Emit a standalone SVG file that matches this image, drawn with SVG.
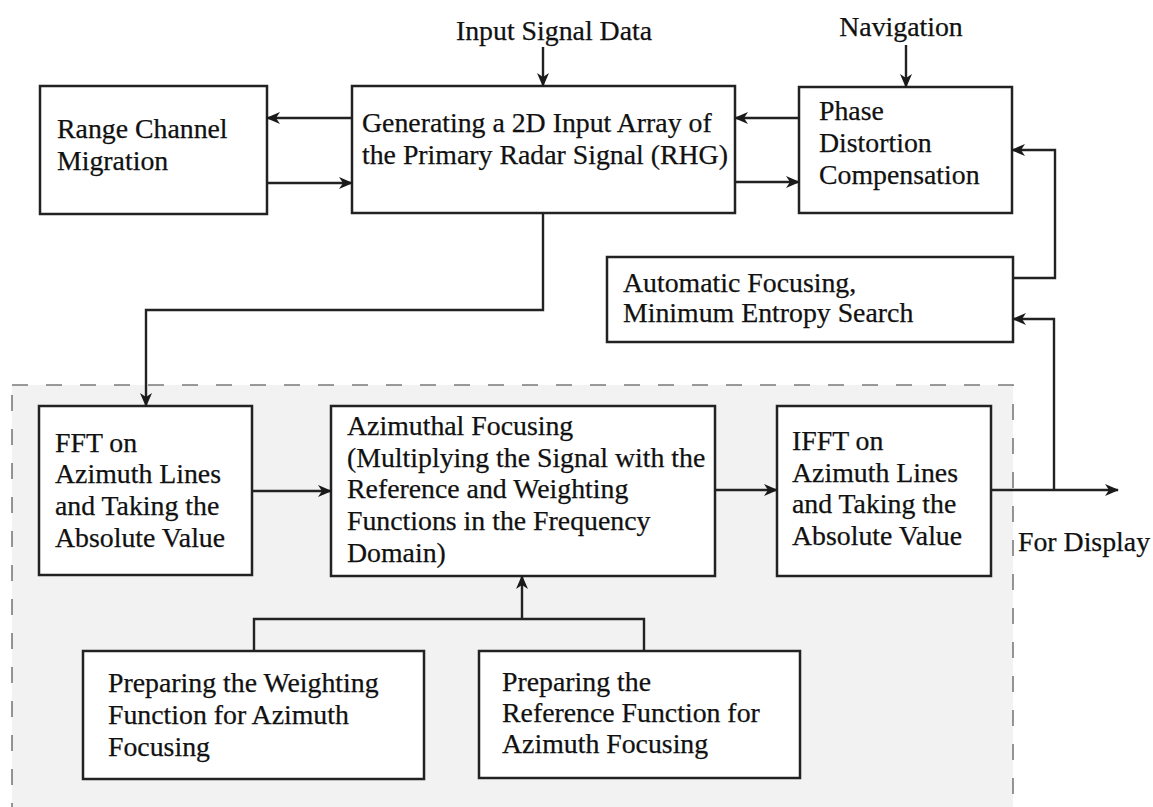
<svg xmlns="http://www.w3.org/2000/svg" width="1153" height="807" viewBox="0 0 1153 807">
  <style>
    .box { fill: #ffffff; stroke: #222222; stroke-width: 2.5; }
    .lbl { font-family: "Liberation Serif", "Times New Roman", serif; font-size: 27.8px; fill: #111111; stroke: #111111; stroke-width: 0.25; }
    .wire { fill: none; stroke: #222222; stroke-width: 2.4; }
    .arr { marker-end: url(#ah); }
    .region { fill: #f2f2f2; stroke: #7a7a7a; stroke-width: 1.6; stroke-dasharray: 16 18; }
  </style>
  <defs>
    <marker id="ah" viewBox="0 0 14 12" refX="13" refY="6" markerWidth="14" markerHeight="12" orient="auto" markerUnits="userSpaceOnUse">
      <path d="M0,0 L14,6 L0,12 L4,6 z" fill="#1a1a1a"/>
    </marker>
  </defs>

  <rect width="1153" height="807" fill="#ffffff"/>

  <!-- azimuth processing block -->
  <rect id="azimuth-block" class="region" x="12" y="385" width="1001" height="440"/>

  <!-- free labels -->
  <g id="input-label"><text class="lbl" x="554" y="40" text-anchor="middle">Input Signal Data</text></g>
  <g id="nav-label"><text class="lbl" x="901" y="36" text-anchor="middle">Navigation</text></g>
  <g id="display-label"><text class="lbl" x="1018" y="551">For Display</text></g>

  <!-- nodes -->
  <g id="range-migration">
    <rect class="box" x="40" y="86" width="227" height="128"/>
    <text class="lbl" x="57" y="138">Range Channel</text>
    <text class="lbl" x="57" y="170">Migration</text>
  </g>
  <g id="input-array">
    <rect class="box" x="352" y="86" width="383" height="127"/>
    <text class="lbl" x="362" y="132">Generating a 2D Input Array of</text>
    <text class="lbl" x="362" y="164">the Primary Radar Signal (RHG)</text>
  </g>
  <g id="phase-comp">
    <rect class="box" x="799" y="87" width="213" height="126"/>
    <text class="lbl" x="819" y="120">Phase</text>
    <text class="lbl" x="819" y="152">Distortion</text>
    <text class="lbl" x="819" y="184">Compensation</text>
  </g>
  <g id="autofocus">
    <rect class="box" x="607" y="257" width="406" height="85"/>
    <text class="lbl" x="623" y="292">Automatic Focusing,</text>
    <text class="lbl" x="623" y="322">Minimum Entropy Search</text>
  </g>
  <g id="fft">
    <rect class="box" x="39" y="406" width="213" height="169"/>
    <text class="lbl" x="55" y="452">FFT on</text>
    <text class="lbl" x="55" y="483">Azimuth Lines</text>
    <text class="lbl" x="55" y="515">and Taking the</text>
    <text class="lbl" x="55" y="547">Absolute Value</text>
  </g>
  <g id="azimuthal-focusing">
    <rect class="box" x="331" y="406" width="384" height="170"/>
    <text class="lbl" x="347" y="435">Azimuthal Focusing</text>
    <text class="lbl" x="347" y="467">(Multiplying the Signal with the</text>
    <text class="lbl" x="347" y="498">Reference and Weighting</text>
    <text class="lbl" x="347" y="530">Functions in the Frequency</text>
    <text class="lbl" x="347" y="562">Domain)</text>
  </g>
  <g id="ifft">
    <rect class="box" x="777" y="406" width="214" height="170"/>
    <text class="lbl" x="792" y="450">IFFT on</text>
    <text class="lbl" x="792" y="482">Azimuth Lines</text>
    <text class="lbl" x="792" y="513">and Taking the</text>
    <text class="lbl" x="792" y="545">Absolute Value</text>
  </g>
  <g id="weighting-fn">
    <rect class="box" x="83" y="651" width="341" height="128"/>
    <text class="lbl" x="108" y="692">Preparing the Weighting</text>
    <text class="lbl" x="108" y="724">Function for Azimuth</text>
    <text class="lbl" x="108" y="756">Focusing</text>
  </g>
  <g id="reference-fn">
    <rect class="box" x="479" y="651" width="321" height="127"/>
    <text class="lbl" x="502" y="691">Preparing the</text>
    <text class="lbl" x="502" y="722">Reference Function for</text>
    <text class="lbl" x="502" y="753">Azimuth Focusing</text>
  </g>

  <!-- connectors -->
  <g id="connectors">
    <line class="wire arr" x1="543" y1="47" x2="543" y2="86"/>
    <line class="wire arr" x1="906" y1="45" x2="906" y2="87"/>
    <line class="wire arr" x1="352" y1="118" x2="267" y2="118"/>
    <line class="wire arr" x1="267" y1="183" x2="352" y2="183"/>
    <line class="wire arr" x1="799" y1="118" x2="735" y2="118"/>
    <line class="wire arr" x1="735" y1="182" x2="799" y2="182"/>
    <polyline class="wire arr" points="1013,278 1055,278 1055,150 1012,150"/>
    <line class="wire arr" x1="991" y1="490" x2="1118" y2="490"/>
    <polyline class="wire arr" points="1054,490 1054,319 1013,319"/>
    <polyline class="wire arr" points="543,213 543,310 146,310 146,406"/>
    <line class="wire arr" x1="252" y1="491" x2="331" y2="491"/>
    <line class="wire arr" x1="715" y1="490" x2="777" y2="490"/>
    <polyline class="wire" points="254,651 254,619 644,619 644,651"/>
    <line class="wire arr" x1="522" y1="619" x2="522" y2="576"/>
  </g>
</svg>
